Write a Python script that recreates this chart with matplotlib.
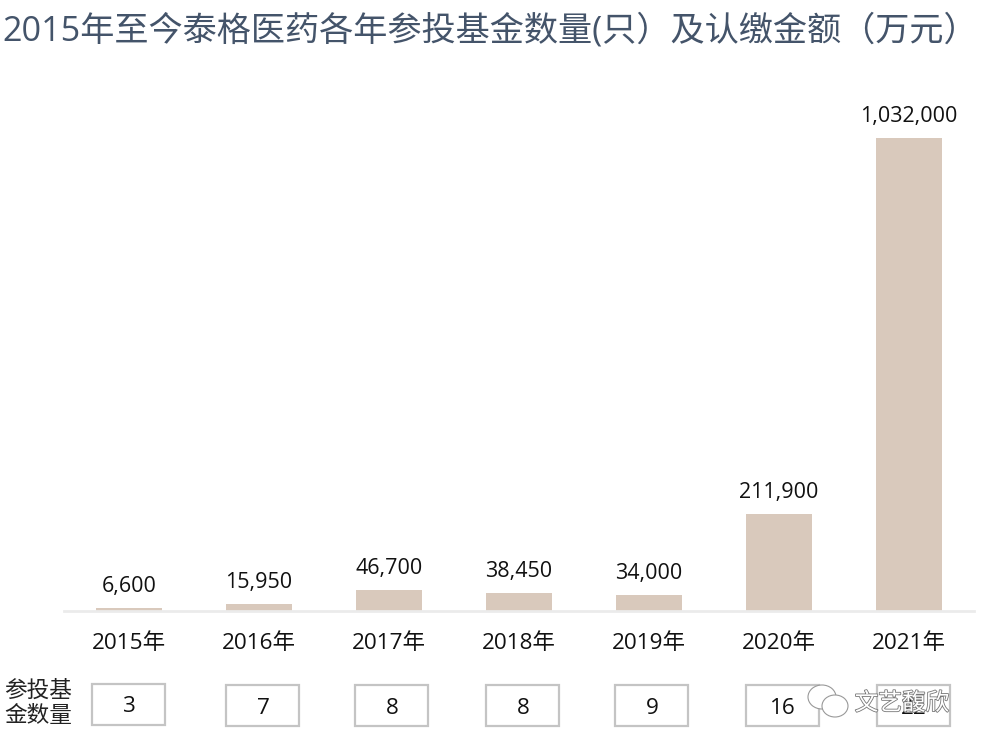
import matplotlib
matplotlib.use("Agg")
import matplotlib.pyplot as plt
import matplotlib.patheffects as pe
from matplotlib.patches import Rectangle, Ellipse

plt.rcParams['font.family'] = ['Open Sans', 'Noto Sans CJK SC', 'DejaVu Sans']

# values
years = ["2015年", "2016年", "2017年", "2018年", "2019年", "2020年", "2021年"]
amounts = [6600, 15950, 46700, 38450, 34000, 211900, 1032000]
# last count sits behind the watermark, best guess
fund_counts = ["3", "7", "8", "8", "9", "16", "22"]

W, H = 981, 746
fig = plt.figure(figsize=(W / 100, H / 100), dpi=100)

# axes spans the plot area, baseline at y=611 px
ax = fig.add_axes([64 / W, 1 - 611 / H, 910 / W, 500 / H])
x = range(len(years))
ax.bar(x, amounts, width=0.515, color="#d9c9bc")
ax.set_xlim(-0.5, 6.5)
ax.set_ylim(0, 1032000 * 500 / 473)

for side in ["top", "left", "right"]:
    ax.spines[side].set_visible(False)
ax.spines["bottom"].set_color("#ebebeb")
ax.spines["bottom"].set_linewidth(2)
ax.set_yticks([])
ax.set_xticks(list(x))
ax.set_xticklabels(years, fontsize=16.2, color="#111111")
ax.tick_params(axis="x", length=0, pad=16)

for i, v in enumerate(amounts):
    ax.annotate(f"{v:,}", (i, v), xytext=(0, 11), textcoords="offset pixels",
                ha="center", va="bottom", fontsize=15.5, color="#111111")

fig.text(2 / W, 1 - 31 / H, "2015年至今泰格医药各年参投基金数量(只）及认缴金额（万元）",
         fontsize=24.6, color="#44546a", ha="left", va="center")

fig.text(38 / W, 1 - 703 / H, "参投基\n金数量", fontsize=16.3, color="#222222",
         ha="center", va="center", linespacing=1.08, fontweight="medium")

# boxes under the axis, they don't line up exactly with the bars
box_lefts = [92, 226, 355, 486, 615, 746, 877]
box_tops = [684, 685, 685, 685, 685, 685, 685]
for c, left, top in zip(fund_counts, box_lefts, box_tops):
    fig.add_artist(Rectangle((left / W, 1 - (top + 41) / H), 73 / W, 41 / H,
                             transform=fig.transFigure, facecolor="white",
                             edgecolor="#c4c4c4", lw=1.6))
    fig.text((left + 37) / W, 1 - (top + 23) / H, c, fontsize=16.2, color="#111111",
             ha="center", va="center", zorder=5)

# watermark: two chat bubbles and the account name
for cx, cy, rx, ry in [(822, 697, 14, 12), (835, 706, 13, 11)]:
    fig.add_artist(Ellipse((cx / W, 1 - cy / H), 2 * rx / W, 2 * ry / H,
                           transform=fig.transFigure, facecolor="white",
                           edgecolor="#999999", lw=0.8, zorder=6))
fig.text(902 / W, 1 - 704 / H, "文艺馥欣", fontsize=17, color="#ffffff", ha="center", va="center",
         zorder=7, path_effects=[pe.withStroke(linewidth=1.2, foreground="#777777")])

fig.savefig("out.png", dpi=100)
